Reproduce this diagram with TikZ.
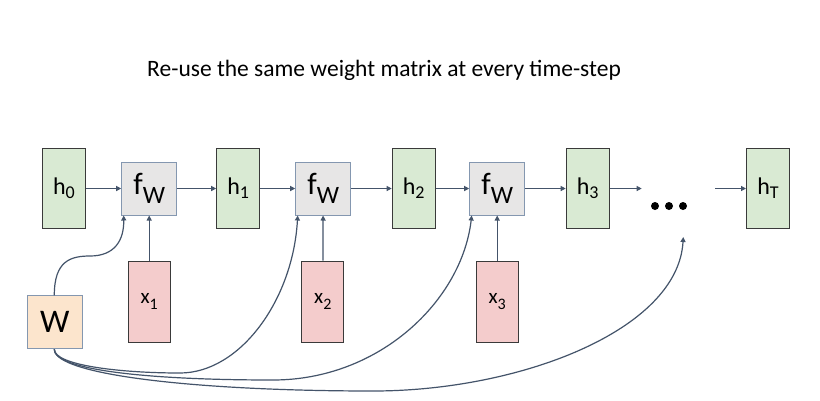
\documentclass[tikz,border=0pt]{standalone}
\usepackage{fontspec}
\setmainfont{Carlito}
\usetikzlibrary{arrows.meta,calc}
\definecolor{lnk}{HTML}{44546A}
\definecolor{hfill}{HTML}{D9EAD3}
\definecolor{xfill}{HTML}{F4CCCC}
\definecolor{ffill}{HTML}{E7E6E6}
\definecolor{wfill}{HTML}{FCE5CD}
\definecolor{darkbd}{HTML}{3A3A3A}
\definecolor{graybd}{HTML}{8497B0}
\newcommand{\hfnt}{\fontsize{24}{26}\selectfont}
\newcommand{\hsubfnt}{\fontsize{18}{19}\selectfont}
\newcommand{\xfnt}{\fontsize{21}{23}\selectfont}
\newcommand{\xsubfnt}{\fontsize{16}{17}\selectfont}
\newcommand{\ffnt}{\fontsize{31}{32}\selectfont}
\newcommand{\fsubfnt}{\fontsize{25}{26}\selectfont}
\newcommand{\xlab}[1]{\raisebox{-4pt}{\xfnt x\raisebox{-6pt}{\xsubfnt #1}}}
\begin{document}
\begin{tikzpicture}[x=1pt,y=-1pt,
  hbox/.style={draw=darkbd, fill=hfill, line width=1pt, minimum width=43pt, minimum height=80pt, inner sep=0pt},
  xbox/.style={draw=darkbd, fill=xfill, line width=1pt, minimum width=42pt, minimum height=81pt, inner sep=0pt},
  fbox/.style={draw=graybd, fill=ffill, line width=1pt, minimum width=55pt, minimum height=53pt, inner sep=0pt},
  wbox/.style={draw=graybd, fill=wfill, line width=1pt, minimum width=55pt, minimum height=53pt, inner sep=0pt},
  conn/.style={draw=lnk, line width=1.2pt, -{Triangle[length=5pt,width=5pt]}},
  dot/.style={fill=black}
]
\useasboundingbox (0,0) rectangle (820,400);
\fill[white] (0,0) rectangle (820,400);

\node (title) at (384,70) {\fontsize{23.5}{27}\selectfont Re-use the same weight matrix at every time-step};

\node[hbox] (h0) at (64,188.5) {\hfnt h\raisebox{-4pt}{\hsubfnt 0}};
\node[fbox] (f1) at (149.2,188.5) {\ffnt f\raisebox{-9pt}{\fsubfnt W}};
\node[hbox] (h1) at (238.2,188.5) {\hfnt h\raisebox{-4pt}{\hsubfnt 1}};
\node[fbox] (f2) at (323.2,188.5) {\ffnt f\raisebox{-9pt}{\fsubfnt W}};
\node[hbox] (h2) at (413.7,188.5) {\hfnt h\raisebox{-4pt}{\hsubfnt 2}};
\node[fbox] (f3) at (497.2,188.5) {\ffnt f\raisebox{-9pt}{\fsubfnt W}};
\node[hbox] (h3) at (587.7,188.5) {\hfnt h\raisebox{-4pt}{\hsubfnt 3}};
\node[hbox] (hT) at (768,188.5) {\hfnt h\raisebox{-4pt}{\hsubfnt T}};

\node[xbox] (x1) at (149.2,301.7) {\xlab{1}};
\node[xbox] (x2) at (322.8,301.7) {\xlab{2}};
\node[xbox] (x3) at (497.2,301.7) {\xlab{3}};

\node[wbox] (W) at (54.8,322.3) {\fontsize{33}{34}\selectfont W};

% dots
\coordinate (dots) at (669,206);
\fill[dot] ($(dots)+(-14,0)$) circle (4);
\fill[dot] (dots) circle (4);
\fill[dot] ($(dots)+(14,0)$) circle (4);
\coordinate (dotsin) at (641.7,188.5);
\coordinate (dotsout) at (715,188.5);
\coordinate (dotsup) at (683.3,237);

% horizontal chain
\draw[conn] (h0) -- (f1);
\draw[conn] (f1) -- (h1);
\draw[conn] (h1) -- (f2);
\draw[conn] (f2) -- (h2);
\draw[conn] (h2) -- (f3);
\draw[conn] (f3) -- (h3);
\draw[conn] (h3.east |- dotsin) -- (dotsin);
\draw[conn] (dotsout) -- (hT.west |- dotsout);

% inputs
\draw[conn] (x1) -- (f1);
\draw[conn] (x2) -- (f2);
\draw[conn] (x3) -- (f3);

% weight sharing curves
\coordinate (wt) at ($(W.north)+(-0.5,0)$);
\coordinate (wb) at ($(W.south)+(-0.5,0)$);
\coordinate (f1in) at ($(f1.south west)+(2.5,0)$);
\coordinate (f2in) at ($(f2.south west)+(2.5,0)$);
\coordinate (f3in) at ($(f3.south west)+(2.5,0)$);

\draw[conn] (wt) .. controls ($(wt)+(0,-34)$) and (70,256) .. (90,256)
  .. controls (115,256) and (124,240) .. (f1in);
\draw[conn] (wb) .. controls ($(wb)+(0,16)$) and (120,373) .. (180,373)
  .. controls (240,373) and (293,300) .. (f2in);
\draw[conn] (wb) .. controls ($(wb)+(0,21)$) and (150,380) .. (273,380)
  .. controls (380,380) and (462,300) .. (f3in);
\draw[conn] (wb) .. controls ($(wb)+(0,26)$) and (200,391) .. (373,391)
  .. controls (520,391) and (678,330) .. (dotsup);
\end{tikzpicture}
\end{document}
